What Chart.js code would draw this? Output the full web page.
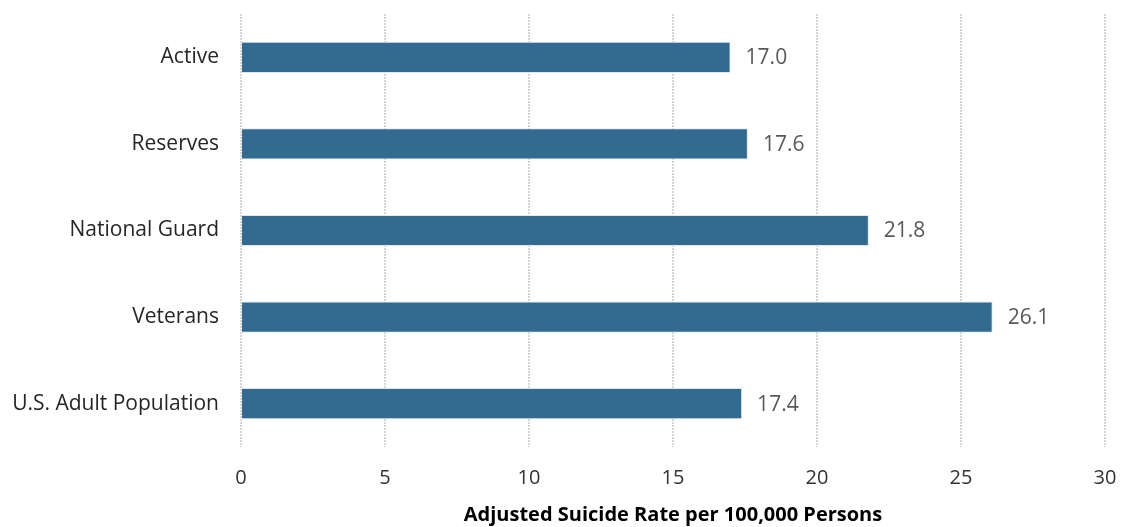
<!DOCTYPE html>
<html>
<head>
<meta charset="utf-8">
<script src="https://cdn.jsdelivr.net/npm/chart.js@4"></script>
<style>
  html, body { margin: 0; padding: 0; background: #fff; }
  #wrap { width: 1121px; height: 527px; }
</style>
</head>
<body>
<div id="wrap"><canvas id="chart" width="1121" height="527"></canvas></div>
<script>
const categories = ["Active", "Reserves", "National Guard", "Veterans", "U.S. Adult Population"];
const rates = [17.0, 17.6, 21.8, 26.1, 17.4];
const xTicks = [0, 5, 10, 15, 20, 25, 30];
const axisTitle = "Adjusted Suicide Rate per 100,000 Persons";

const FONT = '"Open Sans", Lato, sans-serif';

// draws the value next to the end of each bar
const valueLabels = {
  id: 'valueLabels',
  afterDatasetsDraw(chart) {
    const ctx = chart.ctx;
    const meta = chart.getDatasetMeta(0);
    ctx.save();
    ctx.font = '21px ' + FONT;
    ctx.fillStyle = '#595959';
    ctx.textAlign = 'left';
    ctx.textBaseline = 'middle';
    meta.data.forEach((bar, i) => {
      ctx.fillText(rates[i].toFixed(1), bar.x + 15, bar.y + 1);
    });
    ctx.restore();
  }
};

new Chart(document.getElementById('chart').getContext('2d'), {
  type: 'bar',
  data: {
    labels: categories,
    datasets: [{
      data: rates,
      backgroundColor: '#336a90',
      borderColor: '#dfe8ef',
      borderWidth: 1,
      barPercentage: 0.36,
      categoryPercentage: 1
    }]
  },
  options: {
    indexAxis: 'y',
    responsive: false,
    animation: false,
    layout: { padding: { top: 14, right: 16, left: 0, bottom: 0 } },
    plugins: {
      legend: { display: false },
      tooltip: { enabled: false }
    },
    scales: {
      x: {
        min: 0,
        max: 30,
        afterBuildTicks: (scale) => { scale.ticks = xTicks.map(v => ({ value: v })); },
        afterFit: (scale) => {
          scale.height = 80;
          scale.paddingLeft = 0;
          scale.paddingRight = 0;
        },
        grid: {
          color: '#d6d6d6',
          lineWidth: 2,
          drawTicks: false
        },
        border: { display: false, dash: [2, 1] },
        ticks: {
          color: '#333333',
          font: { family: FONT, size: 20 },
          padding: 19
        },
        title: {
          display: true,
          text: axisTitle,
          color: '#000',
          font: { family: FONT, size: 20, weight: 'bold' },
          padding: { top: 8, bottom: 0 }
        }
      },
      y: {
        afterFit: (scale) => {
          scale.width = 241;
          scale.paddingTop = 0;
          scale.paddingBottom = 0;
        },
        border: { display: false },
        grid: { display: false },
        ticks: {
          color: '#262626',
          font: { family: FONT, size: 21 },
          padding: 14
        }
      }
    }
  },
  plugins: [valueLabels]
});
</script>
</body>
</html>
